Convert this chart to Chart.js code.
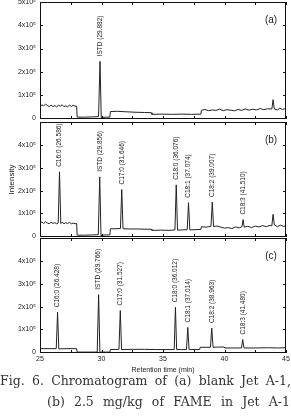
<!DOCTYPE html>
<html>
<head>
<meta charset="utf-8">
<script src="https://cdn.jsdelivr.net/npm/chart.js@4.4.0/dist/chart.umd.min.js"></script>
<style>
  body { margin: 0; width: 291px; height: 416px; background: #fff; position: relative; overflow: hidden; }
  .box { position: absolute; left: 0; width: 291px; }
  .cap { position: absolute; font-family: "DejaVu Serif", "Liberation Serif", serif; font-size: 12.5px; color: #333;
         text-align: justify; text-align-last: justify; white-space: nowrap; line-height: 21px; }
</style>
</head>
<body>
<div class="box" style="top:0;height:121px"><canvas id="chartA"></canvas></div>
<div class="box" style="top:120px;height:120px"><canvas id="chartB"></canvas></div>
<div class="box" style="top:237px;height:140px"><canvas id="chartC"></canvas></div>
<div class="cap" style="left:0;top:370px;width:291px">Fig. 6. Chromatogram of (a) blank Jet A-1,</div>
<div class="cap" style="left:47px;top:391px;width:243px">(b) 2.5 mg/kg of FAME in Jet A-1</div>
<script>
// retention time (min) / intensity (x10^5)
var timeA = [25.0, 25.15, 25.3, 25.45, 25.6, 25.75, 25.9, 26.05, 26.2, 26.35,
  26.5, 26.65, 26.8, 26.95, 27.1, 27.25, 27.4, 27.55, 27.7, 27.85,
  27.98, 28.02, 28.6, 29.2, 29.76, 29.88, 29.98, 30.05, 30.4, 30.68,
  30.72, 31.3, 32.0, 32.8, 33.5, 34.05, 34.1, 34.9, 35.7, 36.5,
  37.3, 38.08, 38.12, 38.4, 38.7, 39.0, 39.3, 39.6, 39.9, 40.2,
  40.5, 40.8, 41.1, 41.4, 41.7, 42.0, 42.3, 42.6, 42.9, 43.2,
  43.5, 43.85, 43.95, 44.05, 44.3, 44.5, 44.7, 44.85, 45.0];
var intA = [0.50, 0.58, 0.53, 0.61, 0.55, 0.50, 0.57, 0.50, 0.55, 0.49,
  0.56, 0.52, 0.58, 0.50, 0.54, 0.49, 0.57, 0.51, 0.56, 0.52,
  0.52, 0.05, 0.05, 0.06, 0.07, 2.45, 0.01, 0.04, 0.05, 0.05,
  0.29, 0.30, 0.28, 0.26, 0.25, 0.24, 0.17, 0.18, 0.17, 0.18,
  0.17, 0.18, 0.34, 0.38, 0.33, 0.36, 0.34, 0.39, 0.33, 0.37,
  0.35, 0.32, 0.38, 0.34, 0.40, 0.35, 0.39, 0.36, 0.42, 0.37,
  0.41, 0.40, 0.80, 0.40, 0.36, 0.44, 0.37, 0.41, 0.38];

var timeB = [25.0, 25.15, 25.3, 25.45, 25.6, 25.75, 25.9, 26.05, 26.2, 26.35,
  26.48, 26.586, 26.69, 26.8, 26.95, 27.1, 27.25, 27.4, 27.55, 27.7,
  27.85, 27.98, 28.02, 28.6, 29.2, 29.74, 29.856, 29.96, 30.05, 30.4,
  30.68, 30.72, 31.1, 31.54, 31.646, 31.75, 32.3, 33.0, 33.7, 34.05,
  34.1, 34.8, 35.5, 35.97, 36.076, 36.18, 36.6, 36.97, 37.074, 37.18,
  37.6, 38.08, 38.12, 38.5, 38.9, 39.007, 39.11, 39.4, 39.7, 40.0,
  40.3, 40.6, 40.9, 41.2, 41.42, 41.51, 41.6, 41.9, 42.2, 42.5,
  42.8, 43.1, 43.4, 43.7, 43.85, 43.95, 44.05, 44.3, 44.55, 44.8,
  45.0];
var intB = [0.57, 0.63, 0.56, 0.64, 0.58, 0.55, 0.62, 0.56, 0.60, 0.55,
  0.58, 2.82, 0.56, 0.62, 0.55, 0.60, 0.56, 0.61, 0.55, 0.58,
  0.55, 0.56, 0.05, 0.05, 0.06, 0.07, 2.60, 0.02, 0.05, 0.06,
  0.06, 0.33, 0.33, 0.34, 2.05, 0.33, 0.32, 0.32, 0.31, 0.31,
  0.26, 0.27, 0.26, 0.28, 2.25, 0.27, 0.28, 0.29, 1.47, 0.28,
  0.29, 0.30, 0.42, 0.40, 0.44, 1.50, 0.43, 0.45, 0.40, 0.36,
  0.38, 0.34, 0.41, 0.37, 0.42, 0.73, 0.40, 0.44, 0.38, 0.45,
  0.41, 0.47, 0.42, 0.48, 0.46, 0.96, 0.50, 0.42, 0.49, 0.43,
  0.46];

var timeC = [25.0, 25.8, 26.32, 26.428, 26.53, 27.2, 27.98, 28.02, 28.8, 29.65,
  29.766, 29.87, 29.95, 30.3, 30.68, 30.72, 31.42, 31.527, 31.63, 32.5,
  33.5, 34.5, 35.91, 36.012, 36.11, 36.5, 36.91, 37.014, 37.12, 37.98,
  38.02, 38.86, 38.963, 39.07, 39.5, 39.98, 40.02, 41.0, 41.38, 41.48,
  41.58, 42.5, 43.5, 44.3, 45.0];
var intC = [0.16, 0.16, 0.16, 1.75, 0.15, 0.16, 0.16, 0.01, 0.01, 0.01,
  2.52, -0.02, 0.01, 0.01, 0.01, 0.12, 0.13, 1.83, 0.12, 0.13,
  0.13, 0.12, 0.12, 1.97, 0.12, 0.12, 0.12, 1.09, 0.12, 0.12,
  0.22, 0.22, 1.06, 0.22, 0.23, 0.23, 0.19, 0.19, 0.19, 0.56,
  0.19, 0.19, 0.20, 0.19, 0.20];

// peak labels
var peakTimeA = [29.88];
var peakHeightA = [2.45];
var peakLabelA = ["ISTD (29.882)"];

var peakTimeB = [26.586, 29.856, 31.646, 36.076, 37.074, 39.007, 41.51];
var peakHeightB = [2.82, 2.60, 2.05, 2.25, 1.47, 1.50, 0.73];
var peakLabelB = ["C16:0 (26.586)", "ISTD (29.856)", "C17:0 (31.646)", "C18:0 (36.076)",
  "C18:1 (37.074)", "C18:2 (39.007)", "C18:3 (41.510)"];

var peakTimeC = [26.428, 29.766, 31.527, 36.012, 37.014, 38.963, 41.48];
var peakHeightC = [1.75, 2.52, 1.83, 1.97, 1.09, 1.06, 0.56];
var peakLabelC = ["C16:0 (26.428)", "ISTD (29.766)", "C17:0 (31.527)", "C18:0 (36.012)",
  "C18:1 (37.014)", "C18:2 (38.963)", "C18:3 (41.480)"];

var xTicks = [25, 30, 35, 40, 45];
var xTickMarks = [25, 27.5, 30, 32.5, 35, 37.5, 40, 42.5, 45];
var yTicks = [0, 1, 2, 3, 4, 5];
var yTickLabels = ["0", "1x10\u2075", "2x10\u2075", "3x10\u2075", "4x10\u2075", "5x10\u2075"];

const lineCol = "#222";
const fontFam = "'Liberation Sans', Arial, sans-serif";

const framePlugin = {
  id: "frame",
  afterDraw(chart, args, o) {
    const ctx = chart.ctx;
    const a = chart.chartArea;
    const x = chart.scales.x;
    const y = chart.scales.y;
    ctx.save();
    ctx.strokeStyle = "#111";
    ctx.lineWidth = 1;
    ctx.strokeRect(a.left + 0.5, a.top + 0.5, a.right - a.left - 1, a.bottom - a.top - 1);
    ctx.beginPath();
    xTickMarks.forEach((v) => {
      let px = Math.round(x.getPixelForValue(v)) + 0.5;
      ctx.moveTo(px, a.top); ctx.lineTo(px, a.top + 3);
      ctx.moveTo(px, a.bottom); ctx.lineTo(px, a.bottom - 3);
    });
    yTicks.forEach((v) => {
      let py = Math.round(y.getPixelForValue(v)) + 0.5;
      ctx.moveTo(a.left, py); ctx.lineTo(a.left + 3, py);
      ctx.moveTo(a.right, py); ctx.lineTo(a.right - 3, py);
    });
    ctx.stroke();

    // peak names, rotated
    ctx.fillStyle = lineCol;
    ctx.font = "6.5px " + fontFam;
    ctx.textAlign = "left";
    ctx.textBaseline = "middle";
    o.times.forEach((t, i) => {
      let px = x.getPixelForValue(t);
      let py = y.getPixelForValue(o.heights[i]) - 5;
      ctx.save();
      ctx.translate(px, py);
      ctx.rotate(-Math.PI / 2);
      ctx.fillText(o.labels[i], 0, 0);
      ctx.restore();
    });

    // panel letter
    ctx.font = "10px " + fontFam;
    ctx.textAlign = "center";
    ctx.fillText(o.letter, a.right - 15, a.top + 18);
    ctx.restore();
  },
};

const makeChart = (id, times, ints, pTimes, pHeights, pLabels, letter, pad, showX, showTitle) => {
  var ctx = document.getElementById(id).getContext("2d");
  return new Chart(ctx, {
    type: "line",
    data: {
      datasets: [
        {
          data: times.map((t, i) => ({ x: t, y: ints[i] })),
          borderColor: lineCol,
          borderWidth: 1,
          pointRadius: 0,
          tension: 0,
          fill: false,
        },
      ],
    },
    options: {
      responsive: true,
      maintainAspectRatio: false,
      animation: false,
      events: [],
      layout: { padding: pad },
      plugins: {
        legend: { display: false },
        tooltip: { enabled: false },
        frame: { times: pTimes, heights: pHeights, labels: pLabels, letter: letter },
      },
      scales: {
        x: {
          type: "linear",
          min: 25,
          max: 45,
          display: showX,
          afterBuildTicks: (s) => { s.ticks = xTicks.map((v) => ({ value: v })); },
          afterFit: (s) => { s.height = showX ? 24 : 0; s.paddingLeft = 0; s.paddingRight = 0; },
          grid: { display: false, drawTicks: false },
          border: { display: false },
          ticks: { padding: 2, color: lineCol, font: { size: 7, family: fontFam } },
          title: {
            display: true,
            text: "Retention time (min)",
            color: lineCol,
            font: { size: 7, family: fontFam },
            padding: { top: 0, bottom: 3 },
          },
        },
        y: {
          min: -0.03,
          max: 5,
          afterBuildTicks: (s) => { s.ticks = yTicks.map((v) => ({ value: v })); },
          afterFit: (s) => { s.width = 40; s.paddingTop = 0; s.paddingBottom = 0; },
          grid: { display: false, drawTicks: false },
          border: { display: false },
          ticks: {
            padding: 4,
            color: lineCol,
            font: { size: 7, family: fontFam },
            callback: (v, i) => (letter != "(a)" && v == 5 ? "" : yTickLabels[yTicks.indexOf(v)]),
          },
          title: {
            display: showTitle,
            text: "Intensity",
            color: lineCol,
            font: { size: 8, family: fontFam },
            padding: { top: 7, bottom: 0 },
          },
        },
      },
    },
    plugins: [framePlugin],
  });
};

makeChart("chartA", timeA, intA, peakTimeA, peakHeightA, peakLabelA, "(a)",
  { top: 2, bottom: 2, left: 0, right: 5 }, false, false);
makeChart("chartB", timeB, intB, peakTimeB, peakHeightB, peakLabelB, "(b)",
  { top: 2, bottom: 3, left: 0, right: 5 }, false, true);
makeChart("chartC", timeC, intC, peakTimeC, peakHeightC, peakLabelC, "(c)",
  { top: 1, bottom: 0, left: 0, right: 5 }, true, false);
</script>
</body>
</html>
